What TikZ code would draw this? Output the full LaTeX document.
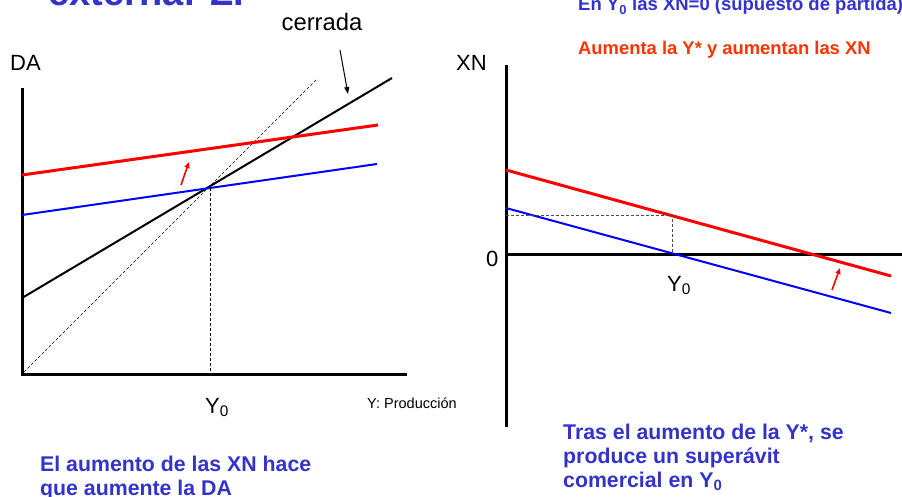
\documentclass[tikz,border=0pt]{standalone}
\usepackage{fontspec}
\setmainfont{Liberation Sans}
\usetikzlibrary{arrows.meta}
\definecolor{txtblue}{HTML}{3333CC}
\definecolor{txtred}{HTML}{FF3300}
\definecolor{lnred}{HTML}{FF0000}
\definecolor{lnblue}{HTML}{0000FF}
\begin{document}
\begin{tikzpicture}[x=1pt,y=-1pt,
  axis/.style={line width=3pt,line join=miter},
  curve/.style={line width=2pt},
  thickred/.style={line width=3pt,draw=lnred},
  thinblue/.style={line width=2pt,draw=lnblue},
  guide/.style={dashed,line width=0.7pt,dash pattern=on 3pt off 2pt},
  movearrow/.style={draw=lnred,line width=1.6pt,-{Triangle[length=6pt,width=5pt]}},
  lbl/.style={inner sep=0pt,anchor=base west,font=\fontsize{22}{26}\selectfont},
  note/.style={inner sep=0pt,anchor=base west,align=left,font=\bfseries\fontsize{21.3}{23.8}\selectfont,text=txtblue}]
\useasboundingbox (0,0) rectangle (902,497);
\clip (0,0) rectangle (902,497);
% title (cut off)
\node[inner sep=0pt,anchor=base west,font=\bfseries\fontsize{38}{40}\selectfont,text=txtblue] (title) at (48,6) {externa: ZI};
% ---------- left chart
\coordinate (lyt) at (22,88);
\coordinate (lo) at (22,374);
\coordinate (lxr) at (407,374);
\draw[axis] (lyt) -- (lo) -- (lxr);
\node[lbl] (da) at (10,71) {DA};
\coordinate (d0) at (24,372);
\coordinate (d1) at (317,79);
\draw[guide] (d0) -- (d1);
\coordinate (b0) at (22,298);
\coordinate (b1) at (392,78);
\draw[curve] (b0) -- (b1);
\coordinate (u0) at (22,215);
\coordinate (u1) at (377,164);
\draw[thinblue] (u0) -- (u1);
\coordinate (r0) at (22,175);
\coordinate (r1) at (378,125);
\draw[thickred] (r0) -- (r1);
\coordinate (e) at (210,188);
\coordinate (ex) at (210,374);
\draw[guide] (e) -- (ex);
\coordinate (a0) at (181,185);
\coordinate (a1) at (189,162);
\draw[movearrow] (a0) -- (a1);
\node[lbl] (y0l) at (205,413) {Y\textsubscript{0}};
\node[inner sep=0pt,anchor=base west,font=\fontsize{14.5}{16}\selectfont] (prod) at (367,408) {Y: Producción};
\node[lbl,anchor=base,font=\fontsize{23.8}{27}\selectfont] (cer) at (322,31) {cerrada};
\coordinate (c0) at (340,50);
\coordinate (c1) at (348,94);
\draw[line width=1pt,-{Triangle[length=7pt,width=5pt]}] (c0) -- (c1);
% ---------- right chart
\coordinate (ryt) at (506,65);
\coordinate (ryb) at (506,427);
\draw[axis] (ryt) -- (ryb);
\coordinate (rx0) at (506,254);
\coordinate (rx1) at (902,254);
\draw[axis] (rx0) -- (rx1);
\node[lbl] (xn) at (456,71) {XN};
\node[lbl] (zero) at (486,266) {0};
\coordinate (p0) at (506,208);
\coordinate (p1) at (891,313);
\draw[thinblue] (p0) -- (p1);
\coordinate (q0) at (506,170);
\coordinate (q1) at (891,276);
\draw[thickred] (q0) -- (q1);
\coordinate (h0) at (506,215);
\coordinate (h1) at (672,215);
\coordinate (h2) at (672,254);
\draw[guide,draw=black!70] (h0) -- (h1) -- (h2);
\coordinate (s0) at (832,290);
\coordinate (s1) at (840,268);
\draw[movearrow] (s0) -- (s1);
\node[lbl] (y0r) at (667,291) {Y\textsubscript{0}};
% ---------- notes
\node[inner sep=0pt,anchor=base west,font=\bfseries\fontsize{18.5}{20}\selectfont,text=txtblue] (hyp) at (578,11) {En Y\textsubscript{0} las XN=0 (supuesto de partida)};
\node[inner sep=0pt,anchor=base west,font=\bfseries\fontsize{18.4}{20}\selectfont,text=txtred] (inc) at (578,55) {Aumenta la Y* y aumentan las XN};
\node[note] (nl) at (40,495) {El aumento de las XN hace\\que aumente la DA};
\node[note] (nr) at (563,487) {Tras el aumento de la Y*, se\\produce un superávit\\comercial en Y\textsubscript{0}};
\end{tikzpicture}
\end{document}
